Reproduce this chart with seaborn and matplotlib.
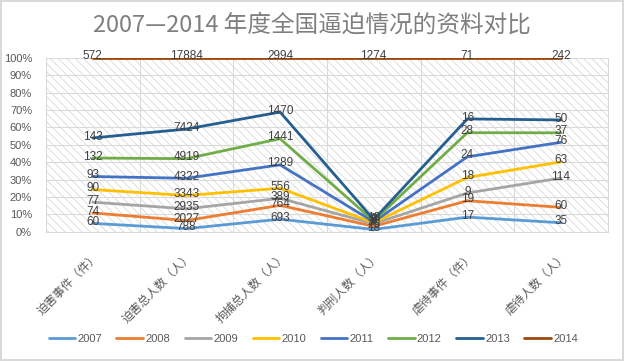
import numpy as np
import pandas as pd
import matplotlib
matplotlib.use("Agg")
import matplotlib.pyplot as plt
import matplotlib.transforms as mtransforms
import seaborn as sns
from matplotlib.patches import Rectangle

# 数据
categories = ["迫害事件（件）", "迫害总人数（人）", "拘捕总人数（人）",
              "判刑人数（人）", "虐待事件（件）", "虐待人数（人）"]
years = ["2007", "2008", "2009", "2010", "2011", "2012", "2013", "2014"]
v2007 = [60, 788, 693, 18, 17, 35]
v2008 = [74, 2027, 764, 25, 19, 60]
v2009 = [77, 2935, 389, 20, 9, 114]
v2010 = [90, 3343, 556, 8, 18, 63]
v2011 = [93, 4322, 1289, 7, 24, 76]
v2012 = [132, 4919, 1441, 8, 28, 37]
v2013 = [143, 7424, 1470, 10, 16, 50]
v2014 = [572, 17884, 2994, 1274, 71, 242]

colors = ["#5B9BD5", "#ED7D31", "#A5A5A5", "#FFC000",
          "#4472C4", "#70AD47", "#255E91", "#9E480E"]

# 100% 堆积折线
values = np.array([v2007, v2008, v2009, v2010, v2011, v2012, v2013, v2014], dtype=float)
cum_pct = values.cumsum(axis=0) / values.sum(axis=0) * 100

rows = []
for i, y in enumerate(years):
    for j in range(len(categories)):
        rows.append({"year": y, "pos": j, "pct": cum_pct[i, j], "value": int(values[i, j])})
df = pd.DataFrame(rows)

sns.set_theme(style="white")
plt.rcParams["font.family"] = ["Liberation Sans", "Noto Sans CJK SC", "DejaVu Sans"]
plt.rcParams["hatch.color"] = "#d9d9d9"
plt.rcParams["hatch.linewidth"] = 0.6

fig = plt.figure(figsize=(6.24, 3.61), dpi=100)
fig.patch.set_facecolor("white")
fig.patch.set_edgecolor("#d9d9d9")
fig.patch.set_linewidth(1.5)
ax = fig.add_axes([0.0737, 0.358, 0.9003, 0.482])

# 斜线底纹
ax.add_patch(Rectangle((0, 0), 1, 1, transform=ax.transAxes, facecolor="white",
                       edgecolor="#d9d9d9", hatch="\\\\\\\\", lw=0, zorder=0))

sns.lineplot(data=df, x="pos", y="pct", hue="year", palette=colors, linewidth=2,
             ax=ax, sort=False, zorder=3)

for _, r in df.iterrows():
    ax.annotate(str(r["value"]), (r["pos"], r["pct"]), xytext=(0, 1),
                textcoords="offset points", ha="center", va="center",
                fontsize=8.5, color="#404040", zorder=5)

ax.set_xlim(-0.5, 5.5)
ax.set_ylim(0, 100)
ax.set_yticks(np.arange(0, 101, 10))
ax.set_yticklabels([f"{t}%" for t in range(0, 101, 10)], fontsize=8, color="#595959")
ax.set_xticks(range(len(categories)))
ax.set_xticklabels(categories, rotation=45, ha="right", rotation_mode="anchor",
                   fontsize=8.5, color="#595959", family=["Noto Sans CJK SC", "DejaVu Sans"])
shift = mtransforms.ScaledTranslation(3 / 100, 0, fig.dpi_scale_trans)
for lab in ax.get_xticklabels():
    lab.set_transform(lab.get_transform() + shift)
ax.set_xticks(np.arange(-0.5, 5.6, 0.5), minor=True)
ax.tick_params(axis="both", which="both", length=0)
ax.tick_params(axis="y", pad=10)
ax.tick_params(axis="x", pad=13)
ax.grid(True, axis="y", color="#d9d9d9", lw=0.75, zorder=1)
ax.grid(True, axis="x", which="minor", color="#d9d9d9", lw=0.75, zorder=1)
ax.set_axisbelow(True)
ax.set_xlabel("")
ax.set_ylabel("")
for s in ax.spines.values():
    s.set_color("#d9d9d9")
    s.set_linewidth(0.75)

handles, labels = ax.get_legend_handles_labels()
ax.legend_.remove()
fig.legend(handles, labels, loc="center", bbox_to_anchor=(0.502, 0.06), ncol=8,
           frameon=False, fontsize=8, handlelength=2.4, columnspacing=1.3,
           handletextpad=0.2, labelcolor="#595959")

fig.text(0.5, 0.93, "2007—2014 年度全国逼迫情况的资料对比", ha="center", va="center",
         fontsize=17, color="#7f7f7f", family=["Noto Sans CJK SC", "DejaVu Sans"])

fig.savefig("out.png", dpi=100, facecolor=fig.get_facecolor(), edgecolor=fig.get_edgecolor())
